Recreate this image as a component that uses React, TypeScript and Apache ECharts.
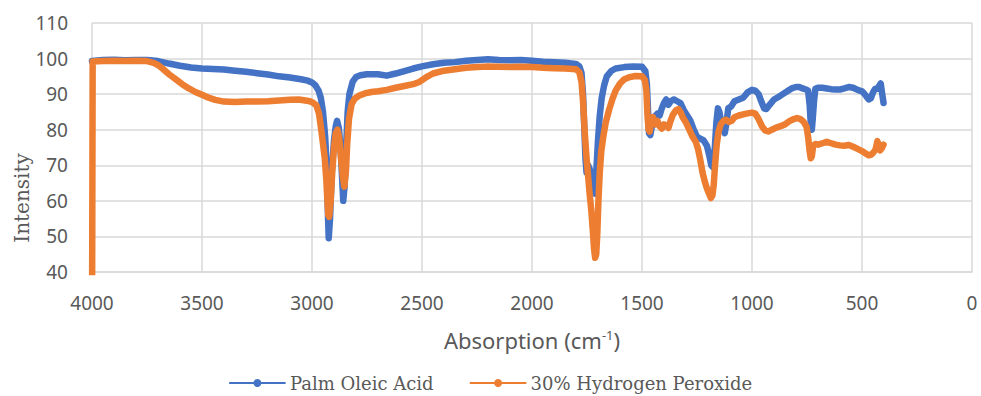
import React, { useEffect, useRef } from "react";
import * as echarts from "echarts";

const xTicks = { min: 0, max: 4000, interval: 500 };
const yTicks = { min: 40, max: 110, interval: 10 };

const seriesNames = ["Palm Oleic Acid", "30% Hydrogen Peroxide"];

const palmWn = [
  4000, 3950, 3900, 3850, 3800, 3750, 3700, 3650, 3600, 3550, 3500, 3450, 3400, 3350, 3300, 3250, 3200, 3150, 3100, 3050,
  3020, 3000, 2985, 2970, 2960, 2950, 2940, 2932, 2927, 2924, 2918, 2910, 2900, 2892, 2886, 2878, 2870, 2862, 2858, 2852,
  2845, 2838, 2830, 2815, 2800, 2780, 2750, 2700, 2660, 2620, 2580, 2540, 2500, 2450, 2400, 2350, 2300, 2250, 2200, 2150,
  2100, 2050, 2000, 1950, 1900, 1850, 1800, 1785, 1775, 1768, 1762, 1757, 1752, 1745, 1738, 1730, 1720, 1714, 1708, 1700,
  1692, 1683, 1672, 1660, 1640, 1620, 1580, 1540, 1500, 1485, 1478, 1473, 1468, 1462, 1455, 1445, 1430, 1420, 1410, 1400,
  1390, 1380, 1370, 1355, 1340, 1325, 1310, 1295, 1280, 1265, 1250, 1235, 1220, 1205, 1195, 1185, 1178, 1170, 1162, 1155,
  1148, 1140, 1132, 1124, 1116, 1108, 1095, 1080, 1060, 1040, 1020, 1000, 985, 970, 958, 945, 935, 920, 900, 880,
  860, 840, 820, 800, 785, 770, 755, 745, 738, 733, 728, 724, 718, 712, 700, 680, 660, 640, 620, 600,
  580, 560, 540, 520, 500, 485, 470, 460, 450, 440, 430, 420, 415, 408, 402,
];
const palmVal = [
  99.3, 99.6, 99.7, 99.5, 99.6, 99.6, 99.3, 98.6, 98.0, 97.5, 97.2, 97.1, 96.9, 96.6, 96.3, 95.9, 95.5, 95.0, 94.7, 94.2,
  93.8, 93.3, 92.5, 91.0, 89, 85, 78, 68, 55, 49.5, 55, 68, 77, 81, 82.5, 80.5, 75, 65, 60, 64,
  75, 85, 90, 93.5, 94.8, 95.3, 95.6, 95.6, 95.2, 95.8, 96.5, 97.2, 97.8, 98.4, 98.8, 99.0, 99.4, 99.6, 99.8, 99.6,
  99.5, 99.6, 99.4, 99.1, 99.0, 98.8, 98.5, 97.8, 96, 90, 80, 72, 68, 70, 69, 67, 64, 62, 68, 77,
  84, 89, 92.5, 95, 96.5, 97.2, 97.6, 97.8, 97.7, 96.5, 93, 86, 79, 78.5, 81, 83.5, 84.5, 84, 86, 87.5,
  88.5, 87, 88, 88.5, 88, 87.5, 85.5, 84, 82.5, 80, 78, 77.5, 77, 75.5, 73, 70, 69.5, 74, 82, 86,
  85, 82, 80.5, 79, 82, 86, 86.5, 88, 88.5, 89, 90.5, 91.2, 91, 90, 88, 86, 85.8, 87, 88.5, 89.2,
  90, 90.8, 91.6, 92, 92, 91.6, 91.3, 91, 87, 82, 80, 83, 88, 91.5, 91.8, 91.8, 91.6, 91.4, 91.3, 91.3,
  91.6, 92, 91.8, 91.2, 90.8, 89.8, 88.5, 88.8, 90.5, 91.5, 91.5, 92.5, 93, 90, 87.5,
];

const h2o2Wn = [
  4000, 3997, 3950, 3900, 3850, 3800, 3750, 3720, 3700, 3680, 3650, 3620, 3590, 3560, 3530, 3500, 3470, 3440, 3400, 3350,
  3300, 3250, 3200, 3150, 3100, 3060, 3030, 3010, 2995, 2980, 2968, 2958, 2950, 2942, 2935, 2930, 2926, 2922, 2915, 2908,
  2900, 2892, 2884, 2876, 2868, 2860, 2853, 2846, 2840, 2832, 2820, 2805, 2785, 2760, 2730, 2700, 2660, 2620, 2580, 2540,
  2510, 2480, 2450, 2400, 2350, 2300, 2250, 2200, 2150, 2100, 2050, 2000, 1950, 1900, 1850, 1800, 1785, 1775, 1768, 1760,
  1752, 1745, 1738, 1730, 1724, 1718, 1713, 1708, 1703, 1698, 1692, 1685, 1676, 1665, 1650, 1635, 1620, 1600, 1580, 1555,
  1530, 1500, 1487, 1480, 1475, 1470, 1465, 1458, 1450, 1440, 1430, 1420, 1410, 1400, 1390, 1380, 1370, 1360, 1345, 1335,
  1325, 1315, 1300, 1285, 1270, 1255, 1245, 1235, 1225, 1215, 1205, 1195, 1187, 1180, 1174, 1168, 1160, 1152, 1142, 1130,
  1118, 1105, 1092, 1080, 1060, 1040, 1020, 1000, 985, 970, 955, 940, 925, 910, 890, 870, 850, 830, 810, 795,
  780, 765, 752, 745, 738, 733, 728, 722, 712, 700, 680, 660, 640, 620, 600, 580, 560, 540, 520, 500,
  485, 470, 458, 448, 438, 430, 424, 418, 410, 402,
];
const h2o2Val = [
  20, 99.2, 99.3, 99.4, 99.3, 99.4, 99.3, 98.8, 98.2, 97.2, 95.6, 94.2, 92.8, 91.6, 90.6, 89.8, 89.0, 88.4, 87.9, 87.8,
  87.9, 87.9, 88.0, 88.2, 88.4, 88.5, 88.2, 88.0, 87.6, 86.8, 84.5, 80, 76, 72, 66, 60, 56, 55.5, 60, 68,
  75, 79, 80, 77.5, 72, 67, 64, 68, 76, 83, 87.2, 88.8, 89.6, 90.2, 90.6, 90.8, 91.2, 91.8, 92.3, 92.8,
  93.5, 94.8, 95.8, 96.6, 97.0, 97.4, 97.6, 97.8, 97.7, 97.6, 97.7, 97.6, 97.4, 97.3, 97.2, 97.0, 96.2, 93.5, 88, 79,
  72, 67, 62, 57, 52, 46.5, 44, 45, 51, 60, 68, 74, 78, 82, 85.5, 88.5, 91, 93, 94.2, 94.8,
  95.1, 95.0, 94, 91, 84, 80, 79.5, 82.5, 83.5, 81.5, 82.5, 81, 80.3, 81.5, 81.2, 80.5, 82.5, 84.2, 85.5, 85.8,
  85, 83.5, 82, 80, 78, 76.5, 74.5, 71.5, 68, 65.5, 63.5, 62, 60.8, 61.5, 64.5, 70, 76, 79.5, 81.5, 82.5,
  82.8, 82.2, 82.5, 83.5, 84, 84.3, 84.6, 84.8, 84.5, 83, 81, 79.8, 79.5, 80, 80.6, 81, 81.5, 82.4, 83, 83.3,
  83, 82.2, 80.8, 78, 74, 72, 72.5, 75.5, 76, 75.8, 76.2, 76.6, 76.2, 75.8, 75.6, 75.5, 75.7, 75.2, 74.6, 74,
  73.4, 72.8, 73, 73.6, 74.5, 76.8, 75.5, 74.2, 74.8, 75.8,
];

const zip = (xs: number[], ys: number[]) => xs.map((x, i) => [x, ys[i]]);

const GREY = "#595959";
const GRID = "#d9d9d9";
const SANS = "'Noto Sans', 'Open Sans', sans-serif";
const SERIF = "'DejaVu Serif', serif";

export default function App() {
  const ref = useRef<HTMLDivElement>(null);
  useEffect(() => {
    if (!ref.current) return;
    const chart = echarts.init(ref.current, undefined, { renderer: "svg" });
    chart.setOption({
      animation: false,
      backgroundColor: "#ffffff",
      grid: { left: 92, right: 9, top: 23, bottom: 124, containLabel: false },
      legend: {
        data: seriesNames,
        left: "center",
        top: 369,
        itemWidth: 55,
        itemHeight: 10,
        itemGap: 36,
        textStyle: { fontFamily: SERIF, fontSize: 18, color: GREY },
      },
      graphic: [
        {
          type: "text",
          x: 22,
          y: 198,
          rotation: Math.PI / 2,
          style: {
            text: "Intensity",
            fontFamily: SERIF,
            fontSize: 20,
            fill: GREY,
            align: "center",
            verticalAlign: "middle",
          },
        },
      ],
      xAxis: {
        type: "value",
        inverse: true,
        min: xTicks.min,
        max: xTicks.max,
        interval: xTicks.interval,
        name: "{a|Absorption (cm}{s|-1}{a|)}",
        nameLocation: "middle",
        nameGap: 56,
        nameTextStyle: {
          rich: {
            a: { fontFamily: SANS, fontSize: 22, color: GREY, lineHeight: 24 },
            s: { fontFamily: SANS, fontSize: 13, color: GREY, verticalAlign: "top", lineHeight: 12 },
          },
        },
        axisLine: { show: true, lineStyle: { color: GRID, width: 1.5 } },
        axisTick: { show: false },
        axisLabel: {
          color: GREY,
          fontFamily: SANS,
          fontSize: 19,
          margin: 21,
          formatter: (v: number) => String(v),
        },
        splitLine: { show: true, lineStyle: { color: GRID, width: 1.5 } },
      },
      yAxis: {
        type: "value",
        min: yTicks.min,
        max: yTicks.max,
        interval: yTicks.interval,
        axisLine: { show: false },
        axisTick: { show: false },
        axisLabel: { color: GREY, fontFamily: SANS, fontSize: 19, margin: 24 },
        splitLine: { show: true, lineStyle: { color: GRID, width: 1.5 } },
      },
      series: [
        {
          name: seriesNames[0],
          type: "line",
          data: zip(palmWn, palmVal),
          symbol: "circle",
          symbolSize: 6,
          showSymbol: false,
          clip: true,
          color: "#4472C4",
          lineStyle: { width: 6.5, color: "#4472C4", cap: "round", join: "round" },
        },
        {
          name: seriesNames[1],
          type: "line",
          data: zip(h2o2Wn, h2o2Val),
          symbol: "circle",
          symbolSize: 6,
          showSymbol: false,
          clip: true,
          color: "#ED7D31",
          lineStyle: { width: 6.5, color: "#ED7D31", cap: "round", join: "round" },
        },
      ],
    });
    return () => chart.dispose();
  }, []);
  return (
    <div
      ref={ref}
      style={{ position: "fixed", left: 0, top: 0, width: 981, height: 396, background: "#fff" }}
    />
  );
}
